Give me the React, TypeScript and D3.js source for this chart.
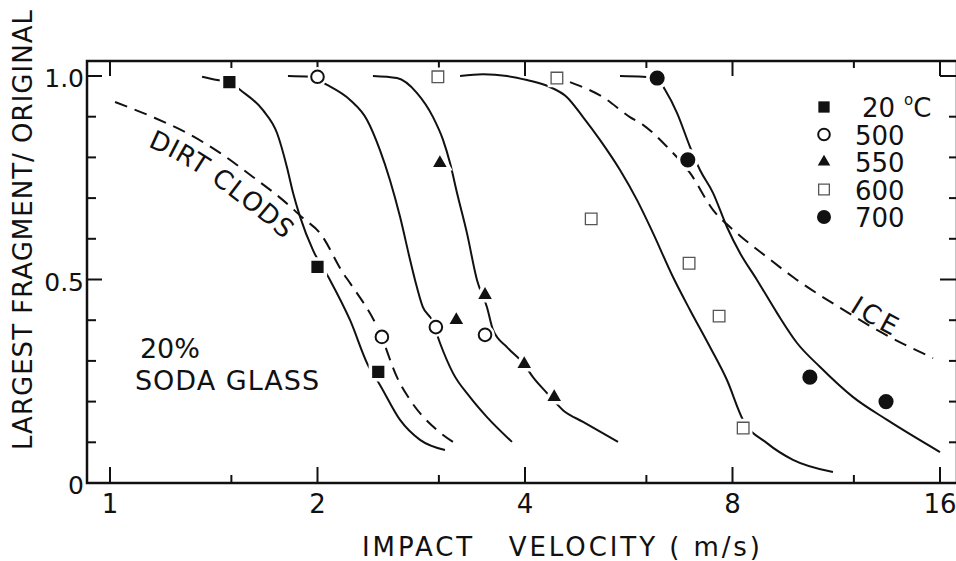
import React, { useEffect, useRef } from "react";
import * as d3 from "d3";

type Pt = [number, number];

// measured points: [impact velocity (m/s), largest fragment / original]
const pts20: Pt[] = [[1.49, 0.985], [2.0, 0.531], [2.45, 0.273]];
const pts500: Pt[] = [[2.0, 0.998], [2.48, 0.359], [2.97, 0.383], [3.5, 0.364]];
const pts550: Pt[] = [[3.01, 0.786], [3.18, 0.4], [3.5, 0.462], [3.99, 0.292], [4.41, 0.211]];
const pts600: Pt[] = [[2.99, 0.998], [4.45, 0.995], [4.99, 0.649], [6.92, 0.54], [7.65, 0.41], [8.29, 0.135]];
const pts700: Pt[] = [[6.22, 0.995], [6.89, 0.794], [10.36, 0.26], [13.36, 0.2]];

// hand drawn fit curves
const curve20: Pt[] = [
  [1.36, 0.998], [1.43, 0.99], [1.493, 0.985], [1.544, 0.966], [1.667, 0.916], [1.747, 0.86],
  [1.806, 0.776], [1.843, 0.713], [1.887, 0.654], [1.97, 0.572], [2.085, 0.499], [2.23, 0.4],
  [2.367, 0.29], [2.464, 0.241], [2.635, 0.155], [2.817, 0.106], [3.062, 0.081],
];
const curve500: Pt[] = [
  [1.812, 1.0], [1.95, 0.998], [2.065, 0.978], [2.23, 0.941], [2.36, 0.892], [2.464, 0.818],
  [2.548, 0.744], [2.635, 0.654], [2.725, 0.548], [2.77, 0.499], [2.844, 0.432], [2.932, 0.4],
  [3.011, 0.344], [3.145, 0.27], [3.329, 0.211], [3.523, 0.162], [3.83, 0.101],
];
const curve550: Pt[] = [
  [2.407, 1.0], [2.608, 0.995], [2.789, 0.958], [2.942, 0.899], [3.042, 0.843], [3.114, 0.786],
  [3.187, 0.713], [3.295, 0.614], [3.407, 0.499], [3.523, 0.432], [3.595, 0.376], [3.766, 0.334],
  [3.987, 0.292], [4.108, 0.26], [4.305, 0.221], [4.541, 0.179], [4.856, 0.15], [5.457, 0.101],
];
const curve600: Pt[] = [
  [3.22, 1.0], [3.477, 1.004], [3.766, 1.0], [4.028, 0.99], [4.347, 0.973], [4.602, 0.948],
  [4.856, 0.899], [5.138, 0.843], [5.494, 0.769], [5.816, 0.695], [6.135, 0.614], [6.558, 0.506],
  [6.941, 0.425], [7.421, 0.334], [7.853, 0.253], [8.286, 0.155], [8.977, 0.098], [9.791, 0.057],
  [11.19, 0.027],
];
const curve700: Pt[] = [
  [5.494, 1.0], [5.933, 0.998], [6.216, 0.995], [6.386, 0.966], [6.648, 0.909], [6.941, 0.826],
  [7.177, 0.769], [7.495, 0.713], [7.853, 0.629], [8.203, 0.565], [8.682, 0.499], [9.281, 0.418],
  [9.925, 0.344], [10.72, 0.285], [11.97, 0.211], [13.41, 0.155], [16.0, 0.076],
];
const dirtClods: Pt[] = [
  [1.017, 0.936], [1.154, 0.899], [1.293, 0.86], [1.444, 0.811], [1.612, 0.752], [1.782, 0.695],
  [1.905, 0.651], [2.017, 0.614], [2.178, 0.516], [2.23, 0.491], [2.464, 0.369], [2.608, 0.26],
  [2.725, 0.204], [2.981, 0.13], [3.198, 0.093],
];
const ice: Pt[] = [
  [4.649, 0.985], [5.19, 0.948], [5.68, 0.899], [5.933, 0.88], [6.427, 0.826], [6.941, 0.762],
  [7.495, 0.671], [8.121, 0.614], [8.977, 0.555], [9.791, 0.506], [11.73, 0.42], [12.96, 0.376],
  [15.63, 0.307],
];

const velMajor = [1, 2, 4, 8, 16];
const velMinor = [1.5, 3, 6, 12];
const fracTicks = [0.1, 0.2, 0.3, 0.4, 0.5, 0.6, 0.7, 0.8, 0.9, 1.0];
const fracLabels: [number, string][] = [[0, "0"], [0.5, "0.5"], [1.0, "1.0"]];
const legendLabels = ["20", "500", "550", "600", "700"];

const FONT = "'DejaVu Sans', sans-serif";
const INK = "#111";

export default function App() {
  const svgRef = useRef<SVGSVGElement>(null);

  useEffect(() => {
    const svg = d3.select(svgRef.current);
    svg.selectAll("*").remove();

    const x = d3.scaleLog().base(2).domain([1, 16]).range([110, 940]);
    const y = d3.scaleLinear().domain([0, 1]).range([483, 76]);
    const left = 87, right = 957, top = 61, bottom = 483;

    const line = d3.line<Pt>().x(d => x(d[0])).y(d => y(d[1])).curve(d3.curveMonotoneX);

    // frame
    svg.append("rect")
      .attr("x", left).attr("y", top)
      .attr("width", right - left).attr("height", bottom - top)
      .attr("fill", "none").attr("stroke", INK).attr("stroke-width", 2.5);

    const ticks = svg.append("g").attr("stroke", INK).attr("stroke-width", 2);
    velMajor.forEach(v => {
      ticks.append("line").attr("x1", x(v)).attr("x2", x(v)).attr("y1", bottom).attr("y2", bottom - 16);
      ticks.append("line").attr("x1", x(v)).attr("x2", x(v)).attr("y1", top).attr("y2", top + 15);
    });
    velMinor.forEach(v => {
      ticks.append("line").attr("x1", x(v)).attr("x2", x(v)).attr("y1", bottom).attr("y2", bottom - 8);
      ticks.append("line").attr("x1", x(v)).attr("x2", x(v)).attr("y1", top).attr("y2", top + 7);
    });
    fracTicks.forEach(f => {
      const major = Math.abs(f - 0.5) < 1e-6 || Math.abs(f - 1) < 1e-6;
      ticks.append("line").attr("y1", y(f)).attr("y2", y(f)).attr("x1", left).attr("x2", left + (major ? 15 : 9));
      ticks.append("line").attr("y1", y(f)).attr("y2", y(f)).attr("x1", right).attr("x2", right - (major ? 17 : 8));
    });

    // tick labels
    const lab = svg.append("g").attr("font-family", FONT).attr("fill", INK);
    fracLabels.forEach(([f, t]) => {
      lab.append("text").attr("x", left - 3).attr("y", y(f) + 11)
        .attr("text-anchor", "end").attr("font-size", 25).text(t);
    });
    velMajor.forEach(v => {
      lab.append("text").attr("x", x(v)).attr("y", 513)
        .attr("text-anchor", "middle").attr("font-size", 26).text(String(v));
    });

    // axis titles
    lab.append("text")
      .attr("x", 561).attr("y", 556).attr("text-anchor", "middle")
      .attr("font-size", 26).attr("textLength", 398).attr("lengthAdjust", "spacing")
      .style("white-space", "pre")
      .text("IMPACT   VELOCITY ( m/s)");
    lab.append("text")
      .attr("transform", "translate(32,230) rotate(-90)")
      .attr("text-anchor", "middle").attr("font-size", 26)
      .attr("textLength", 440).attr("lengthAdjust", "spacing")
      .text("LARGEST FRAGMENT/ ORIGINAL");

    // curves
    const curves = svg.append("g").attr("fill", "none").attr("stroke", INK).attr("stroke-width", 2);
    [curve20, curve500, curve550, curve600, curve700].forEach(c => {
      curves.append("path").attr("d", line(c));
    });
    curves.append("path").attr("id", "dirtPath").attr("d", line(dirtClods))
      .attr("stroke-dasharray", "13,8");
    curves.append("path").attr("id", "icePath").attr("d", line(ice))
      .attr("stroke-dasharray", "13,8");

    // curve annotations
    const dirtText = svg.append("text").attr("font-family", FONT).attr("font-size", 26)
      .attr("fill", INK).attr("letter-spacing", 2);
    dirtText.append("textPath").attr("href", "#dirtPath").attr("startOffset", 48)
      .append("tspan").attr("dy", 29).text("DIRT CLODS");
    const iceText = svg.append("text").attr("font-family", FONT).attr("font-size", 26)
      .attr("fill", INK).attr("letter-spacing", 4);
    iceText.append("textPath").attr("href", "#icePath").attr("startOffset", 366)
      .append("tspan").attr("dy", -2).text("ICE");

    lab.append("text").attr("x", x(1.105)).attr("y", y(0.307))
      .attr("font-size", 27).text("20%");
    lab.append("text").attr("x", x(1.087)).attr("y", y(0.229))
      .attr("font-size", 27).attr("letter-spacing", 1).text("SODA GLASS");

    // markers
    const series = [
      { pts: pts20, type: d3.symbolSquare, size: 150, fill: INK, stroke: INK, sw: 0 },
      { pts: pts500, type: d3.symbolCircle, size: 125, fill: "#fff", stroke: INK, sw: 2 },
      { pts: pts550, type: d3.symbolTriangle, size: 80, fill: INK, stroke: INK, sw: 0 },
      { pts: pts600, type: d3.symbolSquare, size: 135, fill: "#fff", stroke: "#555", sw: 1.3 },
      { pts: pts700, type: d3.symbolCircle, size: 180, fill: INK, stroke: INK, sw: 0 },
    ];
    const mk = svg.append("g");
    series.forEach(s => {
      const sym = d3.symbol().type(s.type).size(s.size)();
      s.pts.forEach(p => {
        mk.append("path").attr("d", sym).attr("transform", `translate(${x(p[0])},${y(p[1])})`)
          .attr("fill", "#fff").attr("stroke", "#fff").attr("stroke-width", 7);
        mk.append("path").attr("d", sym).attr("transform", `translate(${x(p[0])},${y(p[1])})`)
          .attr("fill", s.fill).attr("stroke", s.stroke).attr("stroke-width", s.sw);
      });
    });

    // legend
    const lx = 824, ly = 107, step = 27.5;
    const leg = svg.append("g").attr("font-family", FONT).attr("font-size", 26).attr("fill", INK);
    series.forEach((s, i) => {
      const sym = d3.symbol().type(s.type).size(s.size * 0.85)();
      leg.append("path").attr("d", sym).attr("transform", `translate(${lx},${ly + i * step})`)
        .attr("fill", s.fill).attr("stroke", s.stroke).attr("stroke-width", s.sw);
      const t = leg.append("text").attr("x", lx + (i === 0 ? 38 : 31)).attr("y", ly + i * step + 10)
        .text(legendLabels[i]);
      if (i === 0) {
        t.append("tspan").attr("dx", 9).attr("dy", -12).attr("font-size", 15).text("o");
        t.append("tspan").attr("dy", 12).attr("dx", 0).text("C");
      }
    });
  }, []);

  return (
    <svg
      ref={svgRef}
      width={956}
      height={561}
      style={{ position: "absolute", left: 0, top: 0, background: "#fff" }}
    />
  );
}
